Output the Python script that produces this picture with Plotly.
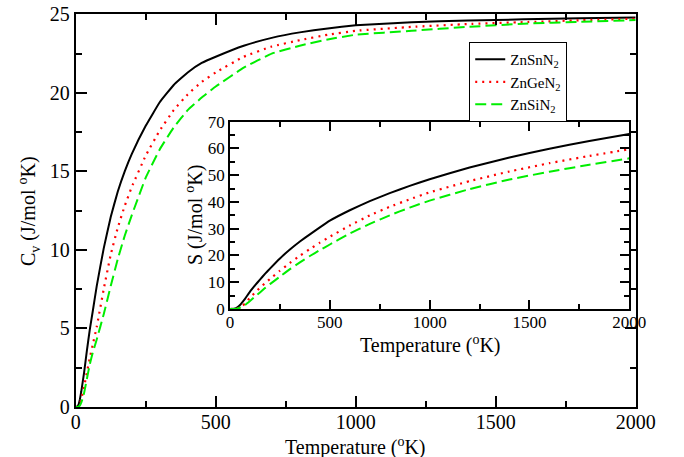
import plotly.graph_objects as go

# ---- Data: heat capacity Cv (J/mol K) vs temperature (K) ----
T_cv = [0, 5, 10, 15, 20, 25, 30, 40, 50, 60, 75, 100, 125, 150, 175, 200, 250, 300, 350, 400,
        450, 500, 600, 700, 800, 900, 1000, 1200, 1400, 1600, 1800, 2000]
cv_znsn = [0, 0.02, 0.15, 0.5, 1.0, 1.6, 2.2, 3.6, 4.9, 6.0, 7.7, 10.1, 12.1, 13.7, 15.0, 16.1, 17.9, 19.4, 20.5, 21.3,
           21.9, 22.3, 23.0, 23.5, 23.85, 24.1, 24.3, 24.5, 24.6, 24.68, 24.75, 24.8]
cv_znge = [0, 0.01, 0.05, 0.2, 0.5, 0.9, 1.3, 2.2, 3.1, 3.9, 5.1, 7.5, 9.7, 11.4, 12.8, 14.0, 16.0, 17.6, 18.9, 19.9,
           20.7, 21.3, 22.3, 22.95, 23.35, 23.7, 23.95, 24.2, 24.38, 24.5, 24.62, 24.72]
cv_znsi = [0, 0.005, 0.02, 0.1, 0.3, 0.55, 0.9, 1.8, 2.7, 3.4, 4.3, 5.9, 7.7, 9.4, 10.9, 12.2, 14.6, 16.4, 17.8, 18.9,
           19.7, 20.4, 21.6, 22.5, 23.0, 23.4, 23.7, 23.95, 24.2, 24.4, 24.52, 24.63]

# ---- Data: entropy S (J/mol K) vs temperature (K) ----
T_s = [0, 20, 30, 40, 50, 60, 75, 100, 125, 150, 175, 200, 250, 300, 350, 400, 450, 500,
       600, 700, 800, 900, 1000, 1200, 1400, 1600, 1800, 2000]
s_znsn = [0, 0.1, 0.3, 0.8, 1.5, 2.4, 3.8, 6.5, 8.8, 11.0, 13.1, 15.1, 18.9, 22.2, 25.2, 27.9, 30.5, 33.0,
          36.9, 40.3, 43.3, 46.0, 48.5, 52.9, 56.6, 59.9, 62.8, 65.4]
s_znge = [0, 0.05, 0.15, 0.3, 0.6, 1.1, 2.0, 4.2, 6.1, 7.9, 9.6, 11.2, 14.3, 17.2, 19.9, 22.4, 24.8, 27.0,
          31.2, 35.0, 38.2, 41.0, 43.6, 47.8, 51.4, 54.5, 57.2, 59.7]
s_znsi = [0, 0.02, 0.08, 0.2, 0.45, 0.8, 1.5, 3.0, 4.6, 6.2, 7.8, 9.3, 12.1, 14.9, 17.4, 19.8, 22.0, 24.1,
          28.2, 31.8, 35.0, 37.9, 40.5, 44.8, 48.4, 51.3, 53.9, 56.3]

names = ["ZnSnN<sub>2</sub>", "ZnGeN<sub>2</sub>", "ZnSiN<sub>2</sub>"]
colors = ["black", "red", "#00ee00"]
dashes = ["solid", "2px,5px", "11px,5px"]
widths = [2, 2.2, 2]

FAM = "Liberation Serif, DejaVu Serif, Times New Roman, serif"

fig = go.Figure()
for cv, name, c, d, w in zip([cv_znsn, cv_znge, cv_znsi], names, colors, dashes, widths):
    fig.add_trace(go.Scatter(x=T_cv, y=cv, mode="lines", name=name,
                             line=dict(color=c, dash=d, width=w, shape="spline", smoothing=0.3),
                             xaxis="x", yaxis="y"))
for s, name, c, d, w in zip([s_znsn, s_znge, s_znsi], names, colors, dashes, widths):
    fig.add_trace(go.Scatter(x=T_s, y=s, mode="lines", name=name, showlegend=False,
                             line=dict(color=c, dash=d, width=w, shape="spline", smoothing=0.3),
                             xaxis="x2", yaxis="y2"))

axis_common = dict(showgrid=False, zeroline=False, showline=True, linecolor="black",
                   linewidth=2, mirror="ticks", ticks="inside", tickcolor="black",
                   automargin=False, color="black")

fig.update_layout(
    width=684, height=457,
    margin=dict(l=0, r=0, t=0, b=0),
    paper_bgcolor="white", plot_bgcolor="white",
    font=dict(family=FAM, color="black", size=20),
    showlegend=True,
    legend=dict(x=0.686, y=0.908, xanchor="left", yanchor="top",
                bgcolor="white", bordercolor="black", borderwidth=1,
                font=dict(family=FAM, size=15, color="black"),
                itemwidth=30, tracegroupgap=0),
    xaxis=dict(domain=[0.1107, 0.9294], range=[0, 2000], tickvals=[0, 500, 1000, 1500, 2000],
               ticklen=11, tickwidth=1.5, tickfont=dict(family=FAM, size=20, color="black"),
               ticklabelstandoff=-4,
               minor=dict(dtick=250, ticklen=6, tickwidth=1.5, ticks="inside", tickcolor="black"),
               anchor="y", **axis_common),
    yaxis=dict(domain=[0.1094, 0.9687], range=[0, 25], tickvals=[0, 5, 10, 15, 20, 25],
               ticklen=11, tickwidth=1.5, tickfont=dict(family=FAM, size=20, color="black"),
               minor=dict(dtick=2.5, ticklen=6, tickwidth=1.5, ticks="inside", tickcolor="black"),
               anchor="x", **axis_common),
    xaxis2=dict(domain=[0.3363, 0.9200], range=[0, 2000], tickvals=[0, 500, 1000, 1500, 2000],
                ticklen=9, tickwidth=1.5, tickfont=dict(family=FAM, size=17, color="black"),
                ticklabelstandoff=-3,
                minor=dict(dtick=250, ticklen=5, tickwidth=1.5, ticks="inside", tickcolor="black"),
                anchor="y2", **axis_common),
    yaxis2=dict(domain=[0.3239, 0.7337], range=[0, 70], tickvals=[0, 10, 20, 30, 40, 50, 60, 70],
                ticklen=9, tickwidth=1.5, tickfont=dict(family=FAM, size=17, color="black"),
                minor=dict(dtick=5, ticklen=5, tickwidth=1.5, ticks="inside", tickcolor="black"),
                anchor="x2", **axis_common),
)

W, H = 684, 457
title_font = dict(family=FAM, size=20, color="black")
titles = [
    ("Temperature (<sup>o</sup>K)", 355, 446, 0),
    ("C<sub>v</sub> (J/mol <sup>o</sup>K)", 29, 211, -90),
    ("Temperature (<sup>o</sup>K)", 430, 344, 0),
    ("S (J/mol <sup>o</sup>K)", 194, 215, -90),
]
for text, px, py, ang in titles:
    fig.add_annotation(text=text, x=px / W, y=1 - py / H, xref="paper", yref="paper",
                       xanchor="center", yanchor="middle", showarrow=False,
                       textangle=ang, font=title_font)

fig.write_html("out.html")
